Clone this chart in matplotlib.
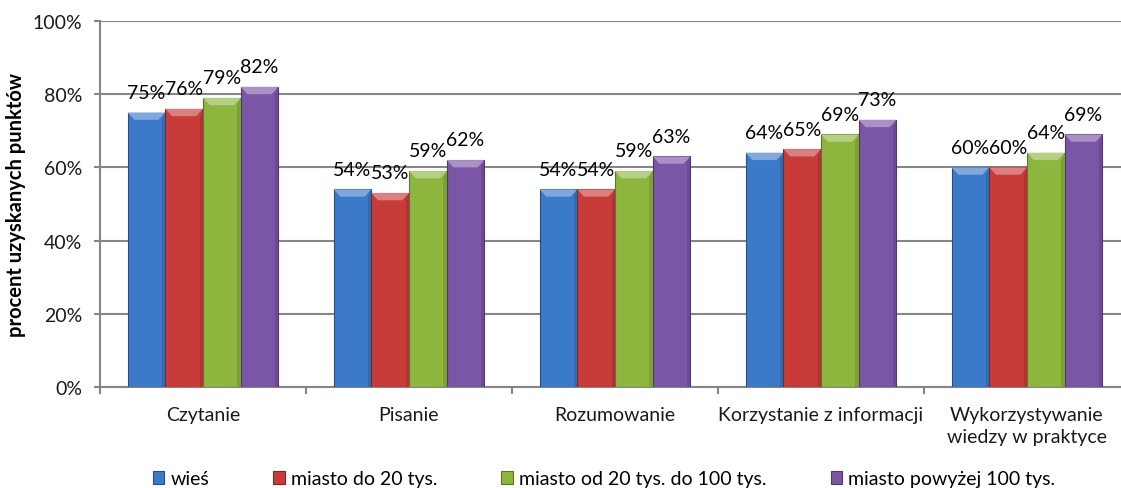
import numpy as np
import matplotlib
matplotlib.use("Agg")
import matplotlib.pyplot as plt
from matplotlib.patches import Polygon
from matplotlib.ticker import PercentFormatter, FixedLocator
from matplotlib.colors import to_rgb

categories = ["Czytanie", "Pisanie", "Rozumowanie", "Korzystanie z informacji",
              "Wykorzystywanie\nwiedzy w praktyce"]
series_names = ["wieś", "miasto do 20 tys.", "miasto od 20 tys. do 100 tys.",
                "miasto powyżej 100 tys."]
wies = [75, 54, 54, 64, 60]
miasto_20 = [76, 53, 54, 65, 60]
miasto_20_100 = [79, 59, 59, 69, 64]
miasto_100 = [82, 62, 63, 73, 69]
series = [wies, miasto_20, miasto_20_100, miasto_100]
colors = ["#3B79C9", "#C73B38", "#8DB63F", "#7B55A6"]

plt.rcParams['font.family'] = ['Lato', 'DejaVu Sans']
FS = 14

W, H = 1121, 489
fig = plt.figure(figsize=(W / 100, H / 100), dpi=100)
ax = fig.add_axes([100 / W, (H - 388) / H, 1030 / W, 366 / H])

x = np.arange(len(categories))
bw = 0.183


def mix(c, other, t):
    c = np.array(to_rgb(c))
    o = np.array(to_rgb(other))
    return tuple(c * (1 - t) + o * t)


for i, (vals, name, col) in enumerate(zip(series, series_names, colors)):
    pos = x + (i - 1.5) * bw
    bars = ax.bar(pos, vals, width=bw, color=col, edgecolor=mix(col, "black", 0.35),
                  linewidth=0.8, label=name, zorder=3)
    for r, v in zip(bars, vals):
        x0, w, h = r.get_x(), r.get_width(), r.get_height()
        dx, dy = w * 0.18, 2.0
        # bevelled top
        ax.add_patch(Polygon([(x0, h), (x0 + w, h), (x0 + w - dx, h - dy), (x0 + dx, h - dy)],
                             closed=True, facecolor=mix(col, "white", 0.35),
                             edgecolor="none", zorder=4))
        # darker side
        ax.add_patch(Polygon([(x0 + w, h), (x0 + w, 0), (x0 + w - dx * 0.5, 0),
                              (x0 + w - dx * 0.5, h - dy)],
                             closed=True, facecolor=mix(col, "black", 0.12),
                             edgecolor="none", zorder=4))
        ax.annotate(f"{v}%", (r.get_x() + w / 2, h), xytext=(0, 10.5),
                    textcoords="offset points", ha="center", va="baseline",
                    fontsize=FS, color="black", zorder=5)

ax.set_xlim(-0.5, len(categories) - 0.5)
ax.set_ylim(0, 100)
ax.yaxis.set_major_locator(FixedLocator([0, 20, 40, 60, 80, 100]))
ax.yaxis.set_major_formatter(PercentFormatter(xmax=100, decimals=0))
ax.grid(axis="y", color="#868686", linewidth=1.5, zorder=0)
ax.set_axisbelow(True)

for s in ["top", "right"]:
    ax.spines[s].set_visible(False)
for s in ["left", "bottom"]:
    ax.spines[s].set_color("#868686")
    ax.spines[s].set_linewidth(1.5)

ax.tick_params(axis="y", length=4, width=1.5, color="#868686", pad=9,
               labelsize=FS, labelcolor="#1a1a1a")
ax.set_xticks(x)
ax.set_xticklabels(categories, fontsize=FS, linespacing=1.3, color="#1a1a1a")
ax.tick_params(axis="x", which="major", length=0, pad=14)
ax.set_xticks(np.arange(len(categories) + 1) - 0.5, minor=True)
ax.tick_params(axis="x", which="minor", length=5, width=1.5, color="#868686")

ax.set_ylabel("procent uzyskanych punktów", fontsize=14.5, fontweight="bold")
ax.yaxis.set_label_coords(-74 / 1030, 0.5)

handles, labels = ax.get_legend_handles_labels()
fig.legend(handles, labels, loc="center", bbox_to_anchor=(604 / W, 9 / H), ncol=4,
           frameon=False, fontsize=FS, handlelength=0.6, handleheight=0.6,
           handletextpad=0.3, columnspacing=3.3, borderpad=0, borderaxespad=0)

fig.savefig("out.png", dpi=100)
